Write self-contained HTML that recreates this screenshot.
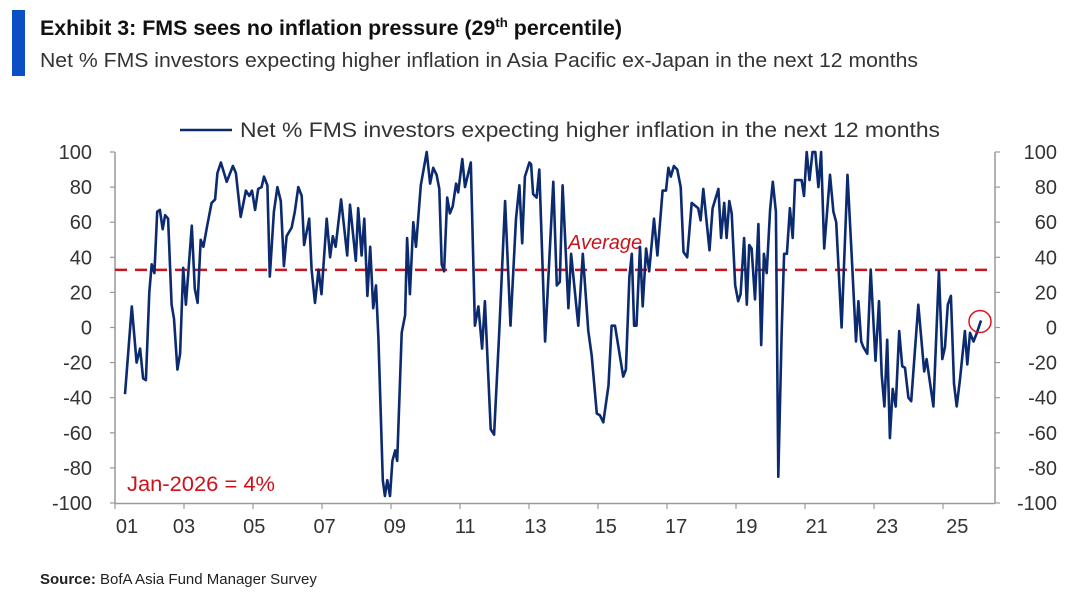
<!DOCTYPE html>
<html><head><meta charset="utf-8"><style>
html,body{margin:0;padding:0;background:#fff;}
svg{display:block;font-family:"Liberation Sans",sans-serif;}
</style></head><body>
<svg id="chart" width="1080" height="597" viewBox="0 0 1080 597">
<rect x="12" y="10" width="13" height="66" fill="#0a4fc4"/>
<text x="40" y="35" font-size="21" font-weight="bold" fill="#111" textLength="582" lengthAdjust="spacingAndGlyphs">Exhibit 3: FMS sees no inflation pressure (29<tspan font-size="13" dy="-8">th</tspan><tspan dy="8"> percentile)</tspan></text>
<text x="40" y="67" font-size="20" fill="#333" textLength="878" lengthAdjust="spacingAndGlyphs">Net % FMS investors expecting higher inflation in Asia Pacific ex-Japan in the next 12 months</text>
<line x1="180" y1="130" x2="232" y2="130" stroke="#0b2a6f" stroke-width="2.5"/>
<text x="240" y="137" font-size="21" fill="#333" textLength="700" lengthAdjust="spacingAndGlyphs">Net % FMS investors expecting higher inflation in the next 12 months</text>
<g id="axes"></g>
<g id="plot"></g>
<text x="127" y="491" font-size="21" fill="#d0101a" textLength="148" lengthAdjust="spacingAndGlyphs">Jan-2026 = 4%</text>
<text x="40" y="584" font-size="15" fill="#222"><tspan font-weight="bold">Source:</tspan> BofA Asia Fund Manager Survey</text>
</svg>
<script>
const dates=[2001.00,2001.20,2001.34,2001.44,2001.53,2001.61,2001.71,2001.78,2001.86,2001.94,2002.02,2002.10,2002.17,2002.26,2002.36,2002.43,2002.53,2002.61,2002.70,2002.78,2002.95,2003.04,2003.12,2003.21,2003.29,2003.40,2003.53,2003.63,2003.70,2003.80,2003.97,2004.15,2004.24,2004.38,2004.53,2004.63,2004.71,2004.80,2004.89,2004.99,2005.06,2005.16,2005.23,2005.35,2005.45,2005.55,2005.64,2005.72,2005.87,2005.96,2006.06,2006.16,2006.23,2006.38,2006.45,2006.55,2006.65,2006.74,2006.89,2006.99,2007.07,2007.15,2007.31,2007.49,2007.57,2007.74,2007.81,2007.91,2007.99,2008.08,2008.16,2008.25,2008.33,2008.40,2008.53,2008.59,2008.66,2008.74,2008.81,2008.89,2008.95,2009.08,2009.18,2009.24,2009.32,2009.42,2009.50,2009.64,2009.81,2009.91,2010.00,2010.10,2010.18,2010.25,2010.32,2010.41,2010.49,2010.57,2010.67,2010.73,2010.85,2010.93,2011.10,2011.22,2011.32,2011.43,2011.51,2011.68,2011.78,2011.93,2012.10,2012.26,2012.42,2012.52,2012.60,2012.68,2012.81,2012.86,2012.92,2013.02,2013.10,2013.27,2013.51,2013.61,2013.70,2013.78,2013.95,2014.03,2014.24,2014.37,2014.53,2014.63,2014.78,2014.87,2014.97,2015.12,2015.21,2015.31,2015.41,2015.55,2015.63,2015.73,2015.80,2015.87,2015.94,2016.04,2016.12,2016.22,2016.31,2016.45,2016.55,2016.70,2016.80,2016.87,2016.94,2017.03,2017.13,2017.23,2017.31,2017.42,2017.55,2017.74,2017.81,2017.89,2018.07,2018.16,2018.33,2018.41,2018.50,2018.57,2018.65,2018.72,2018.82,2018.91,2018.98,2019.08,2019.16,2019.23,2019.30,2019.40,2019.50,2019.58,2019.66,2019.74,2019.84,2019.92,2020.01,2020.08,2020.18,2020.25,2020.33,2020.42,2020.50,2020.57,2020.76,2020.83,2020.91,2020.99,2021.08,2021.16,2021.25,2021.33,2021.42,2021.59,2021.69,2021.77,2021.93,2022.10,2022.22,2022.35,2022.42,2022.50,2022.56,2022.68,2022.78,2022.92,2023.02,2023.10,2023.18,2023.26,2023.34,2023.42,2023.51,2023.61,2023.70,2023.78,2023.88,2023.96,2024.17,2024.34,2024.41,2024.61,2024.77,2024.87,2024.95,2025.03,2025.12,2025.21,2025.29,2025.39,2025.53,2025.60,2025.68,2025.78,2025.88,2026.00];
const netPct=[-38,12,-20,-12,-29,-30,20,36,31,66,67,56,64,62,13,5,-24,-15,34,13,58,22,14,50,46,58,71,73,88,94,83,92,88,63,78,75,78,67,79,80,86,81,29,66,80,72,35,52,57,66,80,75,47,62,33,14,33,19,62,40,52,46,73,41,70,38,68,41,62,18,46,11,24,-6,-87,-96,-87,-96,-76,-70,-76,-3,7,51,19,60,46,81,100,82,91,87,79,36,32,74,65,69,82,77,96,80,94,1,12,-12,15,-58,-61,-3,72,1,62,81,48,86,94,93,76,74,90,-8,83,24,26,81,11,42,1,42,-2,-16,-49,-50,-54,-33,1,1,-11,-28,-24,29,42,1,1,46,12,45,32,62,41,78,78,91,86,92,90,80,43,40,71,68,61,79,44,68,79,51,71,51,72,65,24,15,19,51,13,47,45,16,59,-10,42,31,67,83,66,-85,-2,42,42,68,51,84,84,75,100,84,100,100,80,100,45,87,66,60,0,87,42,-8,15,-8,-11,-15,33,-19,15,-27,-45,-7,-63,-35,-45,-2,-22,-23,-40,-42,13,-25,-18,-45,32,-18,-11,13,18,-32,-45,-29,-2,-21,-3,-8,-3,4];
const averageValue=[32.8];
const yTicks=[100,80,60,40,20,0,-20,-40,-60,-80,-100];
const xTickLabels=["01","03","05","07","09","11","13","15","17","19","21","23","25"];

const NS="http://www.w3.org/2000/svg";
const X0=125,PX_PER_YEAR=34.24,Y0=327.5,PX_PER_UNIT=1.755;
function xScale(y){return X0+(y-2001)*PX_PER_YEAR;}
function yScale(v){return Y0-v*PX_PER_UNIT;}
function mk(tag,attrs,parent){const e=document.createElementNS(NS,tag);for(const k in attrs)e.setAttribute(k,attrs[k]);parent.appendChild(e);return e;}
const axes=document.getElementById('axes'),plot=document.getElementById('plot');
const L=115,R=995,B=yScale(-100),T=yScale(100);
let e;
e=mk('line',{x1:L,y1:T,x2:L,y2:B+0.5,stroke:'#999','stroke-width':1.5},axes);


e=mk('line',{x1:R,y1:T,x2:R,y2:B+0.5,stroke:'#999','stroke-width':1.5},axes);


e=mk('line',{x1:L,y1:B+0.5,x2:R,y2:B+0.5,stroke:'#999','stroke-width':1.5},axes);


yTicks.forEach(v=>{
  const y=yScale(v);
  mk('line',{x1:L-5,y1:y,x2:L,y2:y,stroke:'#999','stroke-width':1.2},axes);
  mk('line',{x1:R,y1:y,x2:R+5,y2:y,stroke:'#999','stroke-width':1.2},axes);
  e=mk('text',{x:92,y:y+7,'font-size':20,fill:'#333','text-anchor':'end'},axes);
  e.textContent=v;
  
  
  e=mk('text',{x:1057,y:y+7,'font-size':20,fill:'#333','text-anchor':'end'},axes);
  e.textContent=v;
  
  
});
for(let k=0;k<13;k++){
  const tx=L+69*k;
  mk('line',{x1:tx,y1:B,x2:tx,y2:B+6,stroke:'#999','stroke-width':1.2},axes);
}
xTickLabels.forEach((lab,i)=>{
  const cx=i===0?127:184+70.3*(i-1);
  e=mk('text',{x:cx,y:B+30,'font-size':20,fill:'#333','text-anchor':'middle'},axes);
  e.textContent=lab;
  
  
});
const ay=yScale(averageValue[0]);
e=mk('line',{x1:L,y1:ay,x2:990,y2:ay,stroke:'#c8141c','stroke-width':2.5,'stroke-dasharray':'12 8'},plot);


e=mk('text',{x:568,y:ay-21,'font-size':20,fill:'#c8141c','font-style':'italic'},plot);
e.textContent='Average';


const pts=dates.map((d,i)=>xScale(d).toFixed(1)+','+yScale(netPct[i]).toFixed(1)).join(' ');
e=mk('polyline',{points:pts,fill:'none',stroke:'#0b2a6f','stroke-width':2.6,'stroke-linejoin':'round'},plot);


const li=dates.length-1;
e=mk('circle',{cx:xScale(dates[li])-1,cy:yScale(netPct[li])+1,r:11,fill:'none',stroke:'#e0141c','stroke-width':1.5},plot);


</script>
</body></html>
